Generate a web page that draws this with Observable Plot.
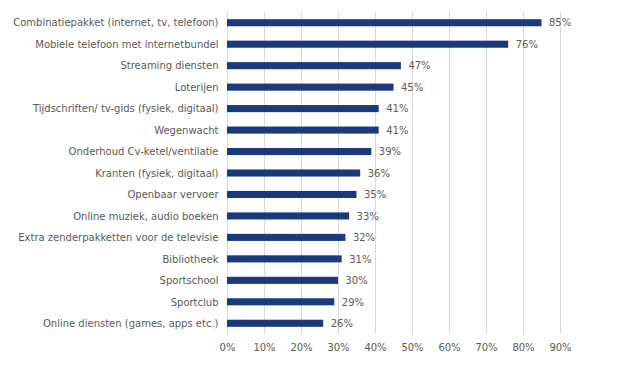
<!DOCTYPE html>
<html>
<head>
<meta charset="utf-8">
<script src="https://cdn.jsdelivr.net/npm/d3@7"></script>
<script src="https://cdn.jsdelivr.net/npm/@observablehq/plot@0.6"></script>
<style>
  html, body { margin: 0; padding: 0; background: #fff; }
  svg { display: block; }
</style>
</head>
<body>
<div id="chart"></div>
<script>
const categories = [
  "Combinatiepakket (internet, tv, telefoon)",
  "Mobiele telefoon met internetbundel",
  "Streaming diensten",
  "Loterijen",
  "Tijdschriften/ tv-gids (fysiek, digitaal)",
  "Wegenwacht",
  "Onderhoud Cv-ketel/ventilatie",
  "Kranten (fysiek, digitaal)",
  "Openbaar vervoer",
  "Online muziek, audio boeken",
  "Extra zenderpakketten voor de televisie",
  "Bibliotheek",
  "Sportschool",
  "Sportclub",
  "Online diensten (games, apps etc.)"
];
const values = [85, 76, 47, 45, 41, 41, 39, 36, 35, 33, 32, 31, 30, 29, 26];
const xTicks = [0, 10, 20, 30, 40, 50, 60, 70, 80, 90];

const data = categories.map((c, i) => ({category: c, value: values[i]}));

const chart = Plot.plot({
  width: 630,
  height: 368,
  marginLeft: 227,
  marginRight: 70,
  marginTop: 12,
  marginBottom: 34,
  style: {fontFamily: "DejaVu Sans, Verdana, sans-serif", fontSize: "10px", color: "#595959", background: "#fff"},
  x: {domain: [0, 90], ticks: xTicks, tickFormat: d => d + "%", label: null},
  y: {domain: categories, label: null, paddingInner: 0.67, paddingOuter: 0.335, round: false},
  marks: [
    Plot.gridX(xTicks, {stroke: "#d9d9d9", strokeOpacity: 1, strokeWidth: 1}),
    Plot.axisX({ticks: xTicks, tickFormat: d => d + "%", tickSize: 0, tickPadding: 9, fill: "#595959", fontSize: 10}),
    Plot.axisY({tickSize: 0, tickPadding: 9, fill: "#595959", fontSize: 10}),
    Plot.barX(data, {x: "value", y: "category", fill: "#1b3a7d"}),
    Plot.text(data, {x: "value", y: "category", text: d => d.value + "%", textAnchor: "start", dx: 7, fill: "#595959", fontSize: 10})
  ]
});
document.getElementById("chart").appendChild(chart);
</script>
</body>
</html>
